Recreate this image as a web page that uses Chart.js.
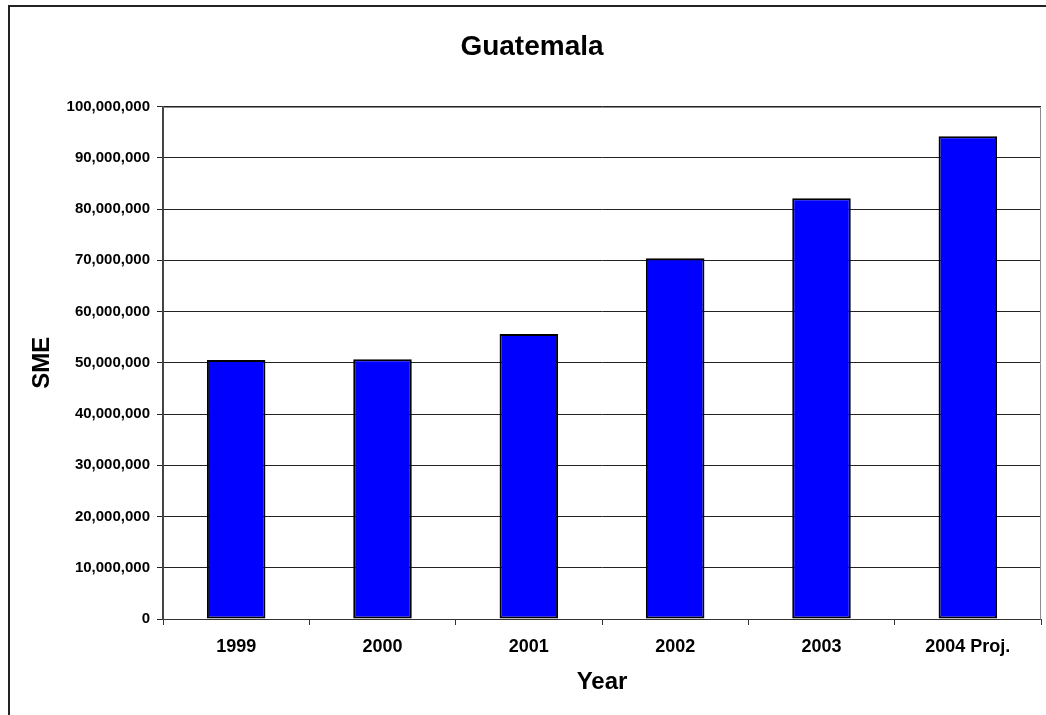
<!DOCTYPE html>
<html>
<head>
<meta charset="utf-8">
<title>Guatemala SME</title>
<script src="https://cdn.jsdelivr.net/npm/chart.js@4/dist/chart.umd.min.js"></script>
<style>
  html, body { margin: 0; padding: 0; background: #fff; }
  #wrap { position: relative; width: 1046px; height: 715px; }
</style>
</head>
<body>
<div id="wrap"><canvas id="c" width="1046" height="715"></canvas></div>
<script>
// Chart data
const years = ['1999', '2000', '2001', '2002', '2003', '2004 Proj.'];
const smeValues = [50570000, 50680000, 55640000, 70420000, 82100000, 94200000];
const yTickMax = 100000000;
const yTickStep = 10000000;

const FONT = '"Liberation Sans", Arial, sans-serif';

// Outer frame and plot-area outline
const framePlugin = {
  id: 'frame',
  beforeDraw(chart) {
    const ctx = chart.ctx;
    ctx.save();
    ctx.strokeStyle = '#222';
    ctx.lineWidth = 2;
    ctx.beginPath();
    ctx.moveTo(9, chart.height + 5);
    ctx.lineTo(9, 6);
    ctx.lineTo(chart.width + 5, 6);
    ctx.stroke();
    ctx.restore();
  },
  afterDatasetsDraw(chart) {
    const { ctx, chartArea: a } = chart;
    ctx.save();
    ctx.strokeStyle = '#8c8c8c';
    ctx.lineWidth = 1;
    ctx.beginPath();
    ctx.moveTo(Math.round(a.left) + 0.5, Math.round(a.top) + 0.5);
    ctx.lineTo(Math.round(a.right) - 0.5, Math.round(a.top) + 0.5);
    ctx.lineTo(Math.round(a.right) - 0.5, Math.round(a.bottom) + 0.5);
    ctx.stroke();
    ctx.restore();
  }
};

new Chart(document.getElementById('c'), {
  type: 'bar',
  data: {
    labels: years,
    datasets: [{
      label: 'SME',
      data: smeValues,
      backgroundColor: '#0000ff',
      borderColor: '#000',
      borderWidth: 2,
      borderSkipped: false,
      barPercentage: 0.4,
      categoryPercentage: 1.0
    }]
  },
  options: {
    responsive: false,
    animation: false,
    devicePixelRatio: 1,
    layout: { padding: { left: 23, right: 5, top: 0, bottom: 0 } },
    plugins: {
      legend: { display: false },
      tooltip: { enabled: false },
      title: {
        display: true,
        text: 'Guatemala',
        color: '#000',
        font: { family: FONT, size: 28, weight: 'bold' },
        padding: { top: 30, bottom: 43 }
      }
    },
    scales: {
      x: {
        grid: {
          display: true,
          offset: true,
          drawOnChartArea: false,
          drawTicks: true,
          tickLength: 6,
          color: '#333'
        },
        border: { display: true, color: '#333', width: 1 },
        ticks: {
          color: '#000',
          padding: 11,
          font: { family: FONT, size: 18, weight: 'bold' }
        },
        title: {
          display: true,
          text: 'Year',
          color: '#000',
          font: { family: FONT, size: 24, weight: 'bold' },
          padding: { top: 0, bottom: 18 }
        },
        afterFit(scale) { scale.height = 96; }
      },
      y: {
        min: 0,
        max: yTickMax,
        grid: {
          color: '#222',
          lineWidth: 1,
          drawTicks: true,
          tickLength: 6
        },
        border: { display: true, color: '#444', width: 2 },
        ticks: {
          stepSize: yTickStep,
          color: '#000',
          padding: 7,
          font: { family: FONT, size: 15, weight: 'bold' },
          callback: (v) => Number(v).toLocaleString('en-US')
        },
        title: {
          display: true,
          text: 'SME',
          color: '#000',
          font: { family: FONT, size: 24, weight: 'bold' },
          padding: { top: 5, bottom: 0 }
        },
        afterFit(scale) { scale.width = 140; }
      }
    }
  },
  plugins: [framePlugin]
});
</script>
</body>
</html>
